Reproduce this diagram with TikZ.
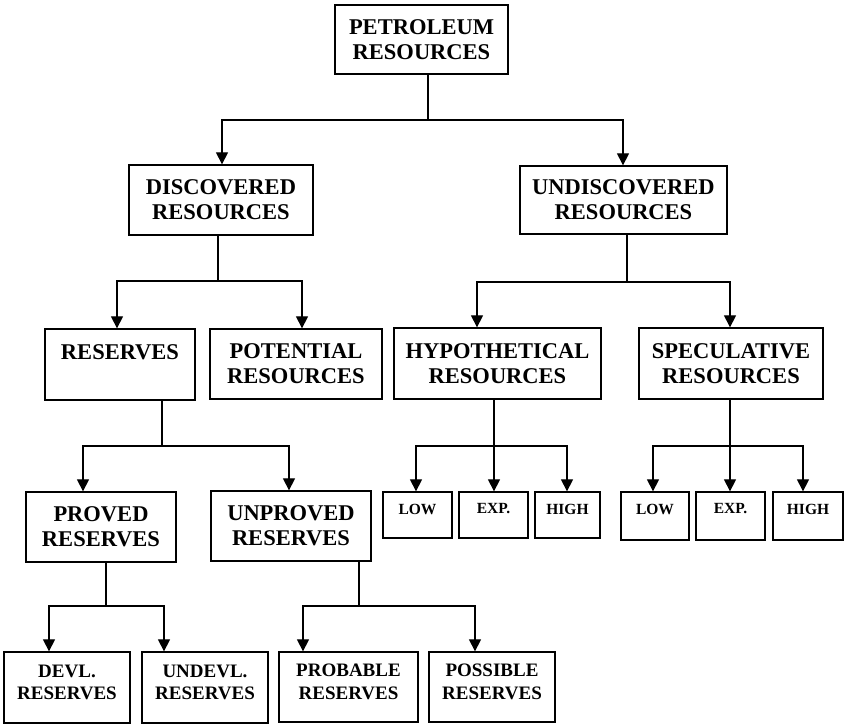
\documentclass[tikz,border=0pt]{standalone}
\usepackage{fontspec}
\setmainfont{Liberation Serif}
\usetikzlibrary{arrows.meta}
\tikzset{
  box/.style={draw, line width=1.3pt, inner sep=0pt, align=center,
    font=\bfseries\fontsize{22.5}{25}\selectfont},
  bbox/.style={draw, line width=1.3pt, inner sep=0pt},
  blbl/.style={inner sep=0pt, align=center, font=\bfseries\fontsize{19}{22.5}\selectfont},
  slbl/.style={inner sep=0pt, align=center, font=\bfseries\fontsize{15.5}{17}\selectfont},
  conn/.style={line width=1.2pt},
  arr/.style={line width=1.2pt, -{Triangle[width=12pt,length=12pt]}},
}
\begin{document}
\begin{tikzpicture}[x=1pt,y=-1pt]
\useasboundingbox (0,0) rectangle (848,725);
% level 0
\node[box, minimum width=173pt, minimum height=69pt] (pet) at (421.5,39.5) {PETROLEUM\\RESOURCES};
% level 1
\node[box, minimum width=184pt, minimum height=70pt] (disc) at (221,200) {DISCOVERED\\RESOURCES};
\node[box, minimum width=207pt, minimum height=68pt] (undisc) at (623.5,200) {UNDISCOVERED\\RESOURCES};
% level 2
\node[box, minimum width=150pt, minimum height=71pt] (res) at (120,364.5) {RESERVES\\\phantom{R}};
\node[box, minimum width=172pt, minimum height=70pt] (pot) at (296,364) {POTENTIAL\\RESOURCES};
\node[box, minimum width=207pt, minimum height=71pt] (hyp) at (497.5,363.5) {HYPOTHETICAL\\RESOURCES};
\node[box, minimum width=184pt, minimum height=71pt] (spec) at (731,363.5) {SPECULATIVE\\RESOURCES};
% level 3
\node[box, minimum width=150pt, minimum height=70pt] (proved) at (101,527) {PROVED\\RESERVES};
\node[box, minimum width=160pt, minimum height=70pt] (unproved) at (291,526) {UNPROVED\\RESERVES};
\node[bbox, minimum width=69pt, minimum height=46pt] (low1) at (417.5,515) {};
\node[bbox, minimum width=69pt, minimum height=46pt] (exp1) at (493.5,515) {};
\node[bbox, minimum width=65pt, minimum height=46pt] (high1) at (567.5,515) {};
\node[bbox, minimum width=68pt, minimum height=48pt] (low2) at (655,516) {};
\node[bbox, minimum width=69pt, minimum height=48pt] (exp2) at (730.5,516) {};
\node[bbox, minimum width=70pt, minimum height=48pt] (high2) at (808,516) {};
\node[slbl] (low1t) at ([yshift=6pt]low1.center) {LOW};
\node[slbl] (exp1t) at ([yshift=6pt]exp1.center) {EXP.};
\node[slbl] (high1t) at ([yshift=6pt]high1.center) {HIGH};
\node[slbl] (low2t) at ([yshift=7pt]low2.center) {LOW};
\node[slbl] (exp2t) at ([yshift=7pt]exp2.center) {EXP.};
\node[slbl] (high2t) at ([yshift=7pt]high2.center) {HIGH};
% level 4
\node[bbox, minimum width=126pt, minimum height=71pt] (devl) at (67,687.5) {};
\node[bbox, minimum width=126pt, minimum height=71pt] (undevl) at (205,687.5) {};
\node[bbox, minimum width=139pt, minimum height=70pt] (prob) at (348.5,687) {};
\node[bbox, minimum width=126pt, minimum height=70pt] (poss) at (492,687) {};
\node[blbl] (devlt) at ([yshift=5pt]devl.center) {DEVL.\\RESERVES};
\node[blbl] (undevlt) at ([yshift=5pt]undevl.center) {UNDEVL.\\RESERVES};
\node[blbl] (probt) at ([yshift=5pt]prob.center) {PROBABLE\\RESERVES};
\node[blbl] (posst) at ([yshift=5pt]poss.center) {POSSIBLE\\RESERVES};
% junctions
\coordinate (j0) at (428,120);
\coordinate (j1) at (218,281);
\coordinate (j2) at (627,282);
\coordinate (j3) at (162,446);
\coordinate (j4) at (494,446);
\coordinate (j5) at (730,446);
\coordinate (j6) at (106,606);
\coordinate (j7) at (359,606);
% connectors
\draw[conn] (j0 |- pet.south) -- (j0);
\draw[arr] (j0) -| (222,0 |- disc.north);
\draw[arr] (j0) -| (623,0 |- undisc.north);

\draw[conn] (j1 |- disc.south) -- (j1);
\draw[arr] (j1) -| (117,0 |- res.north);
\draw[arr] (j1) -| (302,0 |- pot.north);

\draw[conn] (j2 |- undisc.south) -- (j2);
\draw[arr] (j2) -| (477,0 |- hyp.north);
\draw[arr] (j2) -| (730,0 |- spec.north);

\draw[conn] (j3 |- res.south) -- (j3);
\draw[arr] (j3) -| (83,0 |- proved.north);
\draw[arr] (j3) -| (289,0 |- unproved.north);

\draw[arr] (j4 |- hyp.south) -- (j4 |- exp1.north);
\draw[arr] (j4) -| (416,0 |- low1.north);
\draw[arr] (j4) -| (567,0 |- high1.north);

\draw[arr] (j5 |- spec.south) -- (j5 |- exp2.north);
\draw[arr] (j5) -| (653,0 |- low2.north);
\draw[arr] (j5) -| (803,0 |- high2.north);

\draw[conn] (j6 |- proved.south) -- (j6);
\draw[arr] (j6) -| (49,0 |- devl.north);
\draw[arr] (j6) -| (164,0 |- undevl.north);

\draw[conn] (j7 |- unproved.south) -- (j7);
\draw[arr] (j7) -| (303,0 |- prob.north);
\draw[arr] (j7) -| (475,0 |- poss.north);
\end{tikzpicture}
\end{document}
